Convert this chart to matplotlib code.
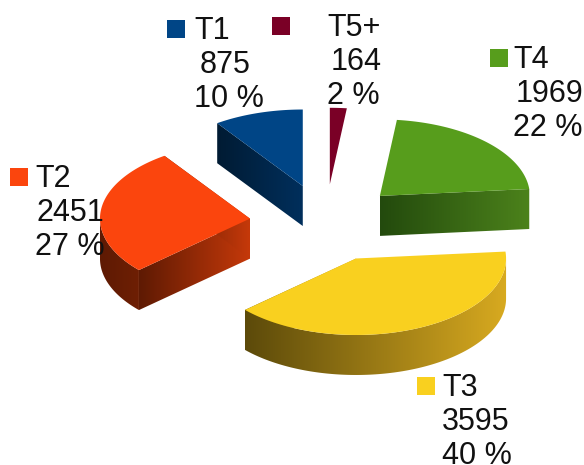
import numpy as np
import matplotlib
matplotlib.use("Agg")
import matplotlib.pyplot as plt
from matplotlib.colors import LinearSegmentedColormap
from matplotlib.patches import Polygon, Rectangle

plt.rcParams['font.family'] = ['Liberation Sans', 'DejaVu Sans']

names = ["T5+", "T4", "T3", "T2", "T1"]
counts = [164, 1969, 3595, 2451, 875]
percents = [2, 22, 40, 27, 10]
top_colors = ["#7a0026", "#579d1c", "#f9d01f", "#fb450d", "#004586"]
# dark/light ends of the side gradients
side_dark = ["#2a000d", "#234a0d", "#5c4a0a", "#5e1a03", "#001b33"]
side_light = ["#4e0018", "#4c821b", "#d8aa20", "#c6390a", "#002f5c"]

legend_x = [272, 490, 417, 10, 167]
legend_y = [17, 49, 377, 168, 20]
text_x = [327, 513, 442, 35, 194]
count_x = [331, 516, 442, 37, 200]
pct_x = [327, 513, 442, 35, 194]

cx, cy = 325.5, 223
R = 150
squash = 0.51
explode = 76
depth = 40
draw_order = [4, 0, 1, 3, 2]

fig = plt.figure(figsize=(5.84, 4.65), dpi=100)
ax = fig.add_axes([0, 0, 1, 1])
ax.set_xlim(0, 584)
ax.set_ylim(465, 0)
ax.axis("off")


def project(theta, r=R, ox=0, oy=0):
    return ox + r * np.sin(theta), oy - r * squash * np.cos(theta)


def gradient_fill(pts, dark, light, flip=False, z=2):
    pts = np.array(pts)
    cmap = LinearSegmentedColormap.from_list("side", [dark, light])
    grad = np.linspace(0, 1, 256)[None, :]
    if flip:
        grad = grad[:, ::-1]
    x0, x1, y0, y1 = pts[:, 0].min(), pts[:, 0].max(), pts[:, 1].min(), pts[:, 1].max()
    im = ax.imshow(grad, cmap=cmap, extent=[x0, x1, y1, y0], aspect="auto", zorder=z, interpolation="bilinear")
    clip = Polygon(pts, closed=True, transform=ax.transData, fill=False, edgecolor="none")
    ax.add_patch(clip)
    im.set_clip_path(clip)


total = sum(counts)
edges = np.concatenate([[0], np.cumsum(counts)]) / total * 2 * np.pi

for n, i in enumerate(draw_order):
    a0, a1 = edges[i], edges[i + 1]
    mid = (a0 + a1) / 2
    ox, oy = project(mid, explode, cx, cy)
    th = np.linspace(a0, a1, 120)
    rx, ry = project(th, R, ox, oy)
    z = 2 + n * 2

    # cut faces, the one facing the viewer for each slice
    for a in (a0, a1):
        ex, ey = project(a, R, ox, oy)
        if (a == a0 and np.sin(a) < -0.1) or (a == a1 and np.sin(a) < 0):
            gradient_fill([(ox, oy), (ex, ey), (ex, ey + depth), (ox, oy + depth)], side_dark[i], side_light[i], z=z)
        elif a == a1 and np.sin(a) > 0.5:
            gradient_fill([(ox, oy), (ex, ey), (ex, ey + depth), (ox, oy + depth)], side_dark[i], side_light[i], z=z)

    # outer wall where the rim faces down
    front = np.cos(th) < 0
    if front.any():
        wx, wy = rx[front], ry[front]
        pts = list(zip(wx, wy)) + list(zip(wx[::-1], wy[::-1] + depth))
        if names[i] == "T2":
            gradient_fill(pts, "#5e1a03", "#6e1f04", z=z + 1)
        else:
            gradient_fill(pts, side_dark[i], side_light[i], z=z + 1)

    ax.fill(np.r_[ox, rx], np.r_[oy, ry], color=top_colors[i], lw=0, zorder=z + 1.5)

for i in range(len(names)):
    ax.add_patch(Rectangle((legend_x[i], legend_y[i]), 18, 18, color=top_colors[i], lw=0, zorder=30))
    y0 = legend_y[i] + 9
    ax.text(text_x[i], y0 + 2, names[i], fontsize=22, va="center", zorder=31, color="#111111")
    ax.text(count_x[i], y0 + 36, str(counts[i]), fontsize=22, va="center", zorder=31, color="#111111")
    ax.text(pct_x[i], y0 + 70, f"{percents[i]} %", fontsize=22, va="center", zorder=31, color="#111111")

ax.set_xlim(0, 584)
ax.set_ylim(465, 0)
fig.savefig("out.png", dpi=100)
